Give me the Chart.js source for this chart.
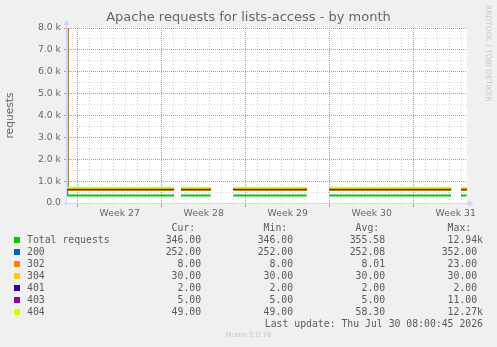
<!DOCTYPE html>
<html>
<head>
<meta charset="utf-8">
<script src="https://cdn.jsdelivr.net/npm/chart.js@4.4.1/dist/chart.umd.min.js"></script>
<style>
  html, body { margin: 0; padding: 0; background: #f0f0f0; }
  #wrap { position: relative; width: 497px; height: 347px; overflow: hidden; }
  #chart { position: absolute; left: 0; top: 0; }
  .txt { position: absolute; white-space: pre; line-height: 12px; height: 12px; color: #5a5a5a;
         font-family: "DejaVu Sans Mono", monospace; font-size: 9.8px; }
  .sq { position: absolute; width: 6px; height: 6px; }
  #rrd { position: absolute; left: 484px; top: 5px; writing-mode: vertical-rl; color: #c8c8c8;
         font-family: "DejaVu Sans", sans-serif; font-size: 7.5px; line-height: 8px; }
  #munin { position: absolute; left: 0; width: 497px; top: 331px; text-align: center; color: #c4c4c4;
           font-family: "DejaVu Sans", sans-serif; font-size: 7px; }
</style>
</head>
<body>
<div id="wrap">
  <canvas id="chart" width="497" height="347"></canvas>
  <div id="rrd">RRDTOOL / TOBI OETIKER</div>
  <div id="legend"></div>
  <div id="munin">Munin 2.0.76</div>
</div>
<script>
// time in days from the left edge of the graph (400px = 33.3 days)
var times = [0, 0.03, 8.92, 9.2, 9.5, 11.97, 12.9, 13.86, 19.97, 20.9, 21.86, 32.0, 32.4, 32.83, 33.3];

var totalReq = [12940, 346, 346, null, 346, 346, null, 346, 346, null, 346, 346, null, 346, 346];
var code200  = [352, 252, 252, null, 252, 252, null, 252, 252, null, 252, 252, null, 252, 252];
var code302  = [23, 8, 8, null, 8, 8, null, 8, 8, null, 8, 8, null, 8, 8];
var code304  = [30, 30, 30, null, 30, 30, null, 30, 30, null, 30, 30, null, 30, 30];
var code401  = [2, 2, 2, null, 2, 2, null, 2, 2, null, 2, 2, null, 2, 2];
var code403  = [11, 5, 5, null, 5, 5, null, 5, 5, null, 5, 5, null, 5, 5];
var code404  = [12270, 49, 49, null, 49, 49, null, 49, 49, null, 49, 49, null, 49, 49];

var seriesNames  = ['Total requests', '200', '302', '304', '401', '403', '404'];
var seriesColors = ['#00cc00', '#0066b3', '#ff8000', '#ffcc00', '#330099', '#990099', '#ccff00'];
var curVals = [346, 252, 8, 30, 2, 5, 49];
var minVals = [346, 252, 8, 30, 2, 5, 49];
var avgVals = [355.58, 252.08, 8.01, 30, 2, 5, 58.30];
var maxVals = [12940, 352, 23, 30, 2, 11, 12270];

var weekLabels = ['Week 27', 'Week 28', 'Week 29', 'Week 30', 'Week 31'];
var weekStartDay = 0.89;   // first monday line
var yMax = 8000;
var lastUpdate = 'Last update: Thu Jul 30 08:00:45 2026';

var allSeries = [totalReq, code200, code302, code304, code401, code403, code404];

// munin stacks every code line on top of the previous one (starting from total)
var running = times.map(function () { return 0; });
var datasets = allSeries.map(function (s, i) {
  var pts = times.map(function (t, j) {
    if (s[j] === null) return {x: t, y: null};
    running[j] += s[j];
    return {x: t, y: running[j]};
  });
  return {
    label: seriesNames[i],
    data: pts,
    borderColor: seriesColors[i],
    borderWidth: 2,
    pointRadius: 0,
    fill: false,
    spanGaps: false,
    order: allSeries.length - i
  };
});

// grid colours close to rrdtool's, munin axis colour
var RED = 'rgba(232,80,80,0.7)';
var GRAY = 'rgba(143,143,143,0.4)';
var AXIS = '#cfd6f8';
var FONT = '#666666';

var plotFrame = {
  id: 'plotFrame',
  beforeDraw: function (chart) {
    var a = chart.chartArea, c = chart.ctx;
    c.save();
    c.fillStyle = '#ffffff';
    c.fillRect(a.left, a.top, a.right - a.left, a.bottom - a.top);
    c.restore();
  },
  afterDraw: function (chart) {
    var a = chart.chartArea, c = chart.ctx;
    c.save();
    c.strokeStyle = AXIS; c.fillStyle = AXIS; c.lineWidth = 1;
    c.beginPath();
    c.moveTo(a.left - 0.5, a.bottom + 3); c.lineTo(a.left - 0.5, a.top - 4);
    c.moveTo(a.left - 3, a.bottom + 0.5); c.lineTo(a.right + 2, a.bottom + 0.5);
    c.stroke();
    c.beginPath();
    c.moveTo(a.left - 3.5, a.top - 3); c.lineTo(a.left + 2.5, a.top - 3); c.lineTo(a.left - 0.5, a.top - 9);
    c.fill();
    c.beginPath();
    c.moveTo(a.right + 1, a.bottom - 2.5); c.lineTo(a.right + 1, a.bottom + 3.5); c.lineTo(a.right + 7, a.bottom + 0.5);
    c.fill();
    c.restore();
  }
};

function halfIndex(v) { return Math.round((v - weekStartDay) * 2); }
function isWeekLine(ctx) { return ctx.tick && halfIndex(ctx.tick.value) % 14 === 0; }
function isThousand(ctx) { return ctx.tick && ctx.tick.value % 1000 === 0; }

new Chart(document.getElementById('chart'), {
  type: 'line',
  data: { datasets: datasets },
  options: {
    responsive: false,
    animation: false,
    layout: { padding: 0 },
    plugins: {
      legend: { display: false },
      tooltip: { enabled: false },
      title: {
        display: true,
        text: 'Apache requests for lists-access - by month',
        color: FONT,
        font: { family: 'DejaVu Sans', size: 13, weight: 'normal' },
        padding: { top: 10, bottom: 2.4 }
      }
    },
    scales: {
      x: {
        type: 'linear',
        min: 0,
        max: 33.33,
        afterFit: function (s) { s.height = 347 - 203; },
        afterBuildTicks: function (s) {
          var t = [];
          for (var v = weekStartDay; v <= 33.33; v += 0.5) t.push({ value: v });
          s.ticks = t;
        },
        ticks: {
          autoSkip: false, maxRotation: 0, padding: 1,
          color: FONT,
          font: { family: 'DejaVu Sans', size: 9.3 },
          callback: function (v) {
            var k = halfIndex(v);
            return (k % 14 === 7) ? weekLabels[(k - 7) / 14] : '';
          }
        },
        grid: {
          tickLength: 4,
          color: function (ctx) {
            if (!ctx.tick) return 'transparent';
            var k = halfIndex(ctx.tick.value);
            if (k % 2) return 'transparent';
            return (k % 14 === 0) ? RED : GRAY;
          },
          tickColor: function (ctx) { return isWeekLine(ctx) ? RED : 'transparent'; }
        },
        border: { display: false, dash: function (ctx) { return isWeekLine(ctx) ? [1, 1] : [1, 2]; } }
      },
      y: {
        min: 0,
        max: yMax,
        afterFit: function (s) { s.width = 67; },
        afterBuildTicks: function (s) {
          var t = [];
          for (var v = 0; v <= yMax; v += 500) t.push({ value: v });
          s.ticks = t;
        },
        title: {
          display: true, text: 'requests', color: FONT,
          font: { family: 'DejaVu Sans', size: 10.7 },
          padding: { top: 4, bottom: 0 }
        },
        ticks: {
          autoSkip: false, padding: 3,
          color: FONT,
          font: { family: 'DejaVu Sans', size: 9.3 },
          callback: function (v) {
            if (v % 1000) return '';
            return v === 0 ? '0.0' : (v / 1000).toFixed(1) + ' k';
          }
        },
        grid: {
          tickLength: 3,
          color: function (ctx) {
            if (!ctx.tick || ctx.tick.value === 0) return 'transparent';
            return isThousand(ctx) ? RED : GRAY;
          },
          tickColor: function (ctx) { return isThousand(ctx) ? RED : 'transparent'; }
        },
        border: { display: false, dash: function (ctx) { return isThousand(ctx) ? [1, 1] : [1, 2]; } }
      },
      // empty axis on the right: keeps the plot 30px away from the edge so the title stays centred on the page
      pad: {
        position: 'right',
        display: true,
        afterFit: function (s) { s.width = 30; },
        ticks: { display: false },
        grid: { display: false, drawTicks: false },
        border: { display: false }
      }
    }
  },
  plugins: [plotFrame]
});

// text legend under the graph, like rrdtool prints it
function fmt(v) {
  return v >= 1000 ? (v / 1000).toFixed(2) + 'k' : v.toFixed(2) + ' ';
}
function addText(txt, left, right, top) {
  var d = document.createElement('div');
  d.className = 'txt';
  d.textContent = txt;
  d.style.top = top + 'px';
  if (right !== null) { d.style.right = (497 - right) + 'px'; } else { d.style.left = left + 'px'; }
  document.getElementById('legend').appendChild(d);
}
var colRight = [207, 299, 391, 483];
var headers = ['Cur:', 'Min:', 'Avg:', 'Max:'];
headers.forEach(function (h, c) { addText(h + '  ', null, colRight[c], 222); });
seriesNames.forEach(function (name, i) {
  var top = 234 + i * 12;
  var sq = document.createElement('div');
  sq.className = 'sq';
  sq.style.left = '14px';
  sq.style.top = (top + 3) + 'px';
  sq.style.background = seriesColors[i];
  document.getElementById('legend').appendChild(sq);
  addText(name, 27, null, top);
  [curVals, minVals, avgVals, maxVals].forEach(function (arr, c) {
    addText(fmt(arr[i]), null, colRight[c], top);
  });
});
addText(lastUpdate, null, 483, 318);
</script>
</body>
</html>
